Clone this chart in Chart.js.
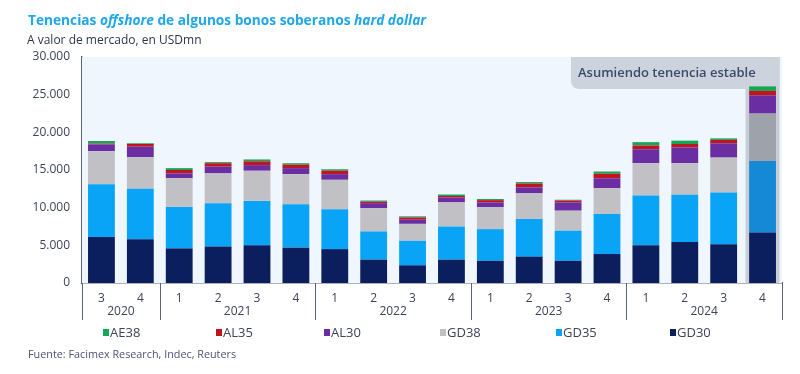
<!DOCTYPE html>
<html>
<head>
<meta charset="utf-8">
<script src="https://cdn.jsdelivr.net/npm/chart.js@4"></script>
<style>
    body { margin: 0; background: #fff; font-family: 'Open Sans', sans-serif; }
    #wrap { position: relative; width: 800px; height: 374px; }
    #title { position: absolute; left: 28px; top: 10px; font-size: 13.7px; font-weight: 700; color: #1ea7ea; }
    #subtitle { position: absolute; left: 27px; top: 31px; font-size: 12px; color: #2f3646; }
    #source { position: absolute; left: 28px; top: 346px; font-size: 10.8px; color: #4b5675; }
    canvas { position: absolute; left: 0; top: 0; }
</style>
</head>
<body>
<div id="wrap">
    <canvas id="chart" width="800" height="374"></canvas>
    <div id="title">Tenencias <i>offshore</i> de algunos bonos soberanos <i>hard dollar</i></div>
    <div id="subtitle">A valor de mercado, en USDmn</div>
    <div id="source">Fuente: Facimex Research, Indec, Reuters</div>
</div>
<script>
// Quarter labels and year groups
const quarters = ['3', '4', '1', '2', '3', '4', '1', '2', '3', '4', '1', '2', '3', '4', '1', '2', '3', '4'];
const years = ['2020', '2021', '2022', '2023', '2024'];
const yearSizes = [2, 4, 4, 4, 4];

// Holdings, USD mn
const gd30 = [6100, 5800, 4600, 4850, 5000, 4700, 4500, 3100, 2350, 3100, 2950, 3500, 2950, 3850, 5000, 5450, 5150, 6700];
const gd35 = [7000, 6700, 5500, 5750, 5900, 5750, 5300, 3750, 3250, 4400, 4200, 5000, 4000, 5300, 6600, 6250, 6850, 9500];
const gd38 = [4400, 4200, 3800, 3950, 4000, 4000, 3900, 3100, 2250, 3200, 2900, 3400, 2650, 3450, 4300, 4200, 4650, 6300];
const al30 = [900, 1400, 650, 900, 750, 800, 750, 650, 550, 650, 650, 800, 1100, 1300, 1850, 2100, 1900, 2400];
const al35 = [100, 350, 450, 450, 500, 450, 450, 200, 300, 200, 300, 500, 250, 600, 500, 450, 450, 600];
const ae38 = [350, 100, 250, 150, 250, 200, 200, 150, 150, 200, 150, 200, 100, 300, 450, 450, 200, 600];

const yTicks = [0, 5000, 10000, 15000, 20000, 25000, 30000];

// legend item left edges (layout only)
const legendX = [103, 216, 324, 440, 556, 670];

const axisColor = '#5b6478';
const textColor = '#3d4457';

// last bar is the projection, drawn a bit darker
function colors(normal, projected) {
    return quarters.map((q, i) => i === quarters.length - 1 ? projected : normal);
}

const fmt = v => String(v).replace(/\B(?=(\d{3})+(?!\d))/g, '.');

const backgroundPlugin = {
    id: 'background',
    beforeDatasetsDraw(chart) {
        const { ctx, chartArea: a, scales: { x } } = chart;
        ctx.save();
        ctx.fillStyle = '#f0f6fd';
        ctx.fillRect(a.left, a.top, a.right - a.left, a.bottom - a.top);
        // shaded projection column
        const cx = x.getPixelForValue(quarters.length - 1);
        ctx.fillStyle = '#c8ced7';
        ctx.fillRect(cx - 17, a.top, 34, a.bottom - a.top);
        // annotation box
        const bx = 571, by = a.top, bw = cx + 17 - 571, bh = 32;
        ctx.fillStyle = '#cdd3dc';
        ctx.beginPath();
        ctx.roundRect(bx, by, bw, bh, [0, 0, 0, 8]);
        ctx.fill();
        ctx.fillStyle = '#3b4a6c';
        ctx.font = '600 13px "Open Sans"';
        ctx.textBaseline = 'middle';
        ctx.fillText('Asumiendo tenencia estable', bx + 7, by + 16);
        ctx.restore();
    },
    afterDraw(chart) {
        const { ctx, chartArea: a } = chart;
        const step = (a.right - a.left) / quarters.length;
        ctx.save();
        ctx.strokeStyle = axisColor;
        ctx.lineWidth = 1;
        ctx.fillStyle = textColor;
        ctx.font = '12px "Open Sans"';
        ctx.textAlign = 'center';
        ctx.textBaseline = 'middle';
        let start = 0;
        const sep = i => {
            const px = Math.round(a.left + i * step) + 0.5;
            ctx.beginPath();
            ctx.moveTo(px, a.bottom);
            ctx.lineTo(px, a.bottom + 37);
            ctx.stroke();
        };
        sep(0);
        years.forEach((yr, k) => {
            const end = start + yearSizes[k];
            ctx.fillText(yr, a.left + (start + end) / 2 * step, a.bottom + 29);
            sep(end);
            start = end;
        });

        // legend, top series first
        ctx.textAlign = 'left';
        ctx.font = '13px "Open Sans"';
        const ds = chart.data.datasets.slice().reverse();
        ds.forEach((d, i) => {
            const lx = legendX[i];
            ctx.fillStyle = d.backgroundColor[0];
            ctx.fillRect(lx, 329, 6, 7);
            ctx.fillStyle = textColor;
            ctx.fillText(d.label, lx + 7, 333);
        });
        ctx.restore();
    }
};

new Chart(document.getElementById('chart'), {
    type: 'bar',
    data: {
        labels: quarters,
        datasets: [
            { label: 'GD30', data: gd30, backgroundColor: colors('#0b1f5e', '#0b1f5e') },
            { label: 'GD35', data: gd35, backgroundColor: colors('#0aa4f6', '#1689d6') },
            { label: 'GD38', data: gd38, backgroundColor: colors('#c1c1c5', '#9ea2ab') },
            { label: 'AL30', data: al30, backgroundColor: colors('#6a2ea2', '#6a2ea2') },
            { label: 'AL35', data: al35, backgroundColor: colors('#c3141e', '#c3141e') },
            { label: 'AE38', data: ae38, backgroundColor: colors('#17a658', '#17a658') }
        ]
    },
    options: {
        responsive: false,
        animation: false,
        layout: { padding: { top: 57, right: 18, bottom: 51, left: 0 } },
        datasets: { bar: { barPercentage: 0.69, categoryPercentage: 1 } },
        scales: {
            x: {
                stacked: true,
                grid: { display: false },
                border: { color: axisColor, width: 1.5 },
                ticks: { color: textColor, font: { family: 'Open Sans', size: 12 }, padding: 0, maxRotation: 0 },
                afterFit: s => { s.height = 40; }
            },
            y: {
                stacked: true,
                min: 0,
                max: 30000,
                afterBuildTicks: s => { s.ticks = yTicks.map(v => ({ value: v })); },
                grid: { display: false },
                border: { color: axisColor, width: 1.5 },
                ticks: { color: textColor, font: { family: 'Open Sans', size: 12 }, padding: 4, callback: v => fmt(v) },
                afterFit: s => { s.width = 82; }
            }
        },
        plugins: {
            legend: { display: false },
            tooltip: { enabled: false }
        }
    },
    plugins: [backgroundPlugin]
});
</script>
</body>
</html>
